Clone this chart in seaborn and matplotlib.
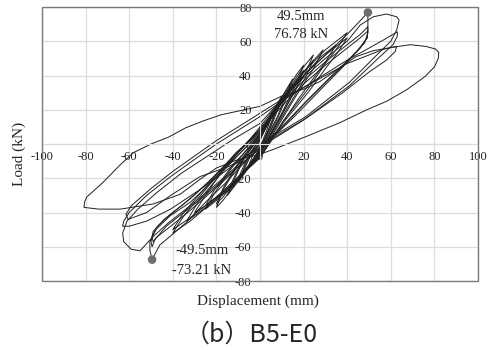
import pandas as pd
import matplotlib
matplotlib.use('Agg')
import matplotlib.pyplot as plt
import seaborn as sns
from matplotlib.patches import Rectangle

# Courbes d'hystérésis B5-E0 (déplacement mm, charge kN)
c05 = [(0, 2), (2.5, 9), (5, 15), (2.5, 6), (0, -2), (-2.5, -8), (-5, -12), (-2.5, -4), (0, 2)]
c08 = [(0, 3), (4, 13), (8, 22), (4, 9), (0, -3), (-4, -11), (-8, -17), (-4, -6), (0, 3)]
c10a = [(0, 4), (5, 17), (10, 28), (5, 11), (0, -3), (-5, -13), (-10, -22), (-5, -7), (0, 4)]
c10b = [(0, 3), (5, 15), (10, 26), (5, 10), (0, -3), (-5, -12), (-10, -20), (-5, -6), (0, 3)]
c15a = [(0, 5), (7, 21), (15, 38), (8, 16), (0, -4), (-7, -17), (-15, -30), (-8, -10), (0, 5)]
c15b = [(0, 4), (7, 20), (15, 35), (8, 15), (0, -4), (-7, -16), (-15, -28), (-8, -9), (0, 4)]
c20a = [(0, 6), (10, 27), (17, 41), (20, 46), (17, 36), (10, 18), (0, -5), (-10, -21), (-17, -33),
        (-20, -37), (-17, -27), (-10, -12), (0, 6)]
c20b = [(0, 5), (10, 25), (17, 38), (20, 43), (17, 34), (10, 17), (0, -5), (-10, -20), (-17, -31),
        (-20, -35), (-17, -26), (-10, -11), (0, 5)]
c25a = [(0, 6), (12, 30), (20, 45), (24.5, 52), (21, 42), (13, 24), (0, -6), (-12, -24), (-21, -34),
        (-25, -38), (-21, -29), (-13, -14), (0, 6)]
c25b = [(0, 5), (12, 28), (20, 42), (24.5, 49), (21, 39), (13, 22), (0, -6), (-12, -23), (-21, -32),
        (-25, -36), (-21, -27), (-13, -13), (0, 5)]
c30a = [(0, 7), (15, 34), (24, 48), (29, 55), (25, 45), (16, 27), (0, -7), (-15, -27), (-28, -40),
        (-33.6, -45), (-28, -33), (-17, -16), (0, 7)]
c30b = [(0, 6), (15, 33), (28, 51), (35, 58), (30, 48), (18, 27), (0, -7), (-15, -26), (-25, -36),
        (-30, -40), (-25, -30), (-17, -15), (0, 6)]
c40a = [(0, 8), (10, 26), (20, 42), (30, 55), (36, 61), (40, 65), (36, 57), (30, 47), (22, 32), (11, 14),
        (0, -8), (-10, -20), (-20, -32), (-32, -45), (-40, -52), (-35, -42), (-22, -22), (-11, -6), (0, 8)]
c40b = [(0, 7), (10, 24), (20, 40), (30, 52), (36, 58), (40, 62), (36, 54), (30, 44), (22, 30), (11, 13),
        (0, -8), (-10, -19), (-20, -31), (-32, -43), (-40, -50), (-35, -40), (-22, -21), (-11, -5), (0, 7)]
c50a = [(0, 10), (10, 26), (20, 40), (30, 52), (40, 64), (46, 72), (49.5, 76.8), (49.5, 70), (49.3, 62),
        (45, 55), (38, 45), (28, 32), (15, 15), (5, 3), (0, -2), (-8, -12), (-16, -23), (-25, -34),
        (-33.6, -45.6), (-40, -52.6), (-46, -59), (-49.5, -67.5), (-50.5, -62), (-50.5, -57),
        (-47.6, -49.7), (-41.3, -42), (-32, -34), (-22, -22), (-12, -8), (-5, 2), (0, 10)]
c50b = [(0, 9), (10, 24), (20, 37), (30, 48), (40, 58), (46, 64), (49.5, 68.5), (49.5, 65), (48, 59),
        (42, 51), (33, 40), (22, 26), (10, 10), (0, -2), (-8, -11), (-17, -22), (-26, -32), (-35, -42),
        (-43, -50), (-48, -55), (-49.5, -60), (-50, -57), (-49, -51), (-44, -44), (-35, -35),
        (-25, -24), (-14, -10), (-6, 1), (0, 9)]
c50c = [(0, 8), (10, 22), (20, 35), (30, 46), (40, 56), (46, 62), (49.5, 66), (49, 62), (46, 56),
        (40, 48), (31, 37), (20, 23), (9, 8), (0, -3), (-8, -11), (-17, -21), (-26, -31), (-35, -40),
        (-43, -48), (-49, -57), (-49.5, -54), (-47, -48), (-41, -41), (-32, -32), (-22, -20),
        (-12, -7), (-5, 2), (0, 8)]
c63a = [(0, 12), (15, 33), (30, 50), (40, 60), (46, 69.5), (52, 74.3), (58, 75.9), (62.7, 74.3),
        (63.8, 72.4), (62.7, 66.6), (60, 60), (52, 50), (41, 36), (21, 16), (0, 0), (-15, -18),
        (-30, -34), (-42, -46), (-49, -54), (-55, -62.3), (-59, -61.5), (-62.5, -57), (-63, -52),
        (-61, -45), (-56, -38), (-47, -28), (-36, -17), (-24, -7), (-12, 3), (0, 12)]
c63b = [(0, 16), (10, 25), (20, 33), (30, 41), (40, 49), (50, 56), (57, 61), (61, 64), (63, 65.5),
        (63, 63), (61, 58), (55, 51), (41, 34), (21, 15), (0, -1), (-15, -15), (-28, -27), (-41, -38),
        (-52, -45), (-60, -48), (-63, -48), (-62.5, -45), (-60, -40), (-52, -30), (-41, -19),
        (-30, -9), (-20, 0), (-10, 8), (0, 16)]
c63c = [(0, 18), (10, 26), (20, 33), (30, 40), (40, 47), (50, 52), (57, 55.5), (62.7, 57), (62, 54),
        (58, 49), (50, 42), (38, 30), (20, 14), (0, -2), (-14, -13), (-27.5, -19), (-41, -30),
        (-52, -40), (-60.5, -44), (-61.5, -41), (-59, -36), (-50, -26), (-40, -16), (-30, -7),
        (-20, 2), (-10, 10), (0, 18)]
c80 = [(0, 22), (10, 28), (20, 32), (27.5, 36.5), (36, 44), (44, 51), (52, 54.5), (61, 56.5), (69, 58),
       (76, 57), (80.5, 55.5), (82, 53.5), (81.8, 50), (80, 45), (75.7, 39.4), (67.3, 31.7),
       (58, 24.9), (49, 20), (36.7, 12.5), (21.4, 4.5), (6, -3.2), (0, -6), (-10, -9), (-20, -14),
       (-27.5, -20.6), (-36.7, -29.4), (-49, -35), (-64, -38), (-74, -38), (-80.7, -37), (-80.5, -34),
       (-79.5, -31), (-72, -22.4), (-64, -12), (-58, -5), (-50, 0), (-42, 4), (-34, 9.5), (-26, 13.5),
       (-18, 17), (-9, 19.5), (0, 22)]

cycles = {'c05': c05, 'c08': c08, 'c10a': c10a, 'c10b': c10b, 'c15a': c15a, 'c15b': c15b,
          'c20a': c20a, 'c20b': c20b, 'c25a': c25a, 'c25b': c25b, 'c30a': c30a, 'c30b': c30b,
          'c40a': c40a, 'c40b': c40b, 'c50a': c50a, 'c50b': c50b, 'c50c': c50c,
          'c63a': c63a, 'c63b': c63b, 'c63c': c63c, 'c80': c80}

# Pics annotés
peak_disp = [49.5, -49.5]
peak_load = [76.8, -67.5]

x_ticks = list(range(-100, 101, 20))
y_ticks = list(range(-80, 81, 20))

rows = []
for name, pts in cycles.items():
    for i, (d, f) in enumerate(pts):
        rows.append({'cycle': name, 'ordre': i, 'disp': d, 'load': f})
data = pd.DataFrame(rows)

sns.set_style('white')
plt.rcParams['font.family'] = ['Liberation Serif', 'DejaVu Serif']
plt.rcParams['axes.unicode_minus'] = False

fig = plt.figure(figsize=(4.88, 3.5), dpi=100)
ax = fig.add_axes([0.086, 0.197, 0.8935, 0.783])

sns.lineplot(data=data, x='disp', y='load', units='cycle', estimator=None, sort=False,
             color='#202020', linewidth=0.7, ax=ax, legend=False)
sns.scatterplot(x=peak_disp, y=peak_load, color='#6e6e6e', s=38, edgecolor='none', ax=ax, zorder=5)

ax.set_xlim(-100, 100)
ax.set_ylim(-80, 80)
ax.set_xticks(x_ticks)
ax.set_yticks(y_ticks)
ax.grid(True, color='#dcdcdc', linewidth=0.9)
ax.set_axisbelow(True)

# axes au centre (style Excel)
ax.spines['left'].set_position(('data', 0))
ax.spines['bottom'].set_position(('data', 0))
ax.spines['left'].set_color('#dcdcdc')
ax.spines['bottom'].set_color('#dcdcdc')
ax.spines['top'].set_visible(False)
ax.spines['right'].set_visible(False)
ax.add_patch(Rectangle((0, 0), 1, 1, transform=ax.transAxes, fill=False,
                       edgecolor='#7a7a7a', linewidth=1.0, clip_on=False, zorder=6))
ax.tick_params(axis='both', length=0, labelsize=9, colors='#222222')
ax.tick_params(axis='y', pad=6)
ax.tick_params(axis='x', pad=5)
ax.set_xlabel('')
ax.set_ylabel('')

ax.text(18.8, 74.4, '49.5mm', ha='center', va='center', fontsize=10.5)
ax.text(18.8, 64.2, '76.78 kN', ha='center', va='center', fontsize=10.5)
ax.text(-26.6, -61.9, '-49.5mm', ha='center', va='center', fontsize=10.5)
ax.text(-26.7, -73.8, '-73.21 kN', ha='center', va='center', fontsize=10.5)

fig.text(0.529, 0.14, 'Displacement (mm)', ha='center', va='center', fontsize=11)
fig.text(0.039, 0.559, 'Load (kN)', ha='center', va='center', rotation=90, fontsize=11)
fig.text(0.515, 0.024, '（b）B5-E0', ha='center', va='baseline', fontsize=18,
         family=['Noto Sans CJK KR', 'DejaVu Sans'])

plt.savefig('out.png', dpi=100)
